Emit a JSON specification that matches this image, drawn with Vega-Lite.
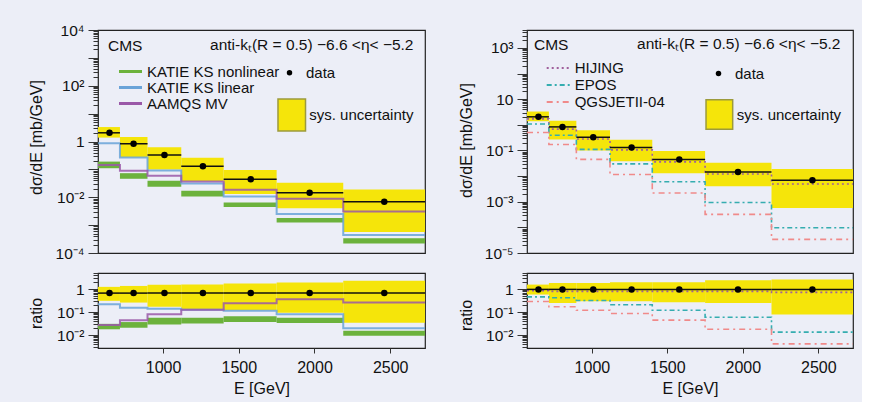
{
 "$schema": "https://vega.github.io/schema/vega-lite/v6.json",
 "background": "#eceef7",
 "padding": {"left": 27, "top": 22, "right": 5, "bottom": 5},
 "datasets": {
  "main": [
   {"lo":570,"hi":715,"E":646,"d":2.05,"slo":1.38,"shi":3.3,"glo":0.11,"ghi":0.19},
   {"lo":715,"hi":897,"E":805,"d":0.83,"slo":0.27,"shi":1.45,"glo":0.046,"ghi":0.073},
   {"lo":897,"hi":1120,"E":1009,"d":0.33,"slo":0.1,"shi":0.62,"glo":0.024,"ghi":0.039},
   {"lo":1120,"hi":1400,"E":1263,"d":0.13,"slo":0.038,"shi":0.26,"glo":0.0107,"ghi":0.017},
   {"lo":1400,"hi":1750,"E":1579,"d":0.044,"slo":0.013,"shi":0.095,"glo":0.0045,"ghi":0.0065},
   {"lo":1750,"hi":2190,"E":1968,"d":0.0145,"slo":0.004,"shi":0.033,"glo":0.00125,"ghi":0.0018},
   {"lo":2190,"hi":2730,"E":2461,"d":0.0069,"slo":0.00057,"shi":0.019,"glo":0.00022,"ghi":0.00034}
  ],
  "left_ratio": [
   {"lo":570,"hi":715,"E":646,"d":0.67,"slo":0.31,"shi":1.25,"glo":0.018,"ghi":0.031},
   {"lo":715,"hi":897,"E":805,"d":0.67,"slo":0.26,"shi":1.37,"glo":0.021,"ghi":0.037},
   {"lo":897,"hi":1120,"E":1009,"d":0.67,"slo":0.17,"shi":1.54,"glo":0.029,"ghi":0.057},
   {"lo":1120,"hi":1400,"E":1263,"d":0.67,"slo":0.134,"shi":1.6,"glo":0.032,"ghi":0.057},
   {"lo":1400,"hi":1750,"E":1579,"d":0.67,"slo":0.12,"shi":1.74,"glo":0.037,"ghi":0.067},
   {"lo":1750,"hi":2190,"E":1968,"d":0.67,"slo":0.094,"shi":1.94,"glo":0.034,"ghi":0.057},
   {"lo":2190,"hi":2730,"E":2461,"d":0.67,"slo":0.035,"shi":2.28,"glo":0.0094,"ghi":0.0154}
  ],
  "right_ratio": [
   {"lo":570,"hi":715,"E":646,"d":0.97,"slo":0.58,"shi":1.57},
   {"lo":715,"hi":897,"E":805,"d":0.97,"slo":0.25,"shi":1.86},
   {"lo":897,"hi":1120,"E":1009,"d":0.97,"slo":0.295,"shi":1.86},
   {"lo":1120,"hi":1400,"E":1263,"d":0.97,"slo":0.295,"shi":1.97},
   {"lo":1400,"hi":1750,"E":1579,"d":0.97,"slo":0.27,"shi":1.97},
   {"lo":1750,"hi":2190,"E":1968,"d":0.97,"slo":0.25,"shi":2.4},
   {"lo":2190,"hi":2730,"E":2461,"d":0.97,"slo":0.078,"shi":2.6}
  ],
  "left_lines": [
   {"E":570,"v":0.87,"model":"KATIE KS linear"},{"E":715,"v":0.265,"model":"KATIE KS linear"},{"E":897,"v":0.091,"model":"KATIE KS linear"},{"E":1120,"v":0.031,"model":"KATIE KS linear"},{"E":1400,"v":0.0106,"model":"KATIE KS linear"},{"E":1750,"v":0.0025,"model":"KATIE KS linear"},{"E":2190,"v":0.00044,"model":"KATIE KS linear"},{"E":2730,"v":0.00044,"model":"KATIE KS linear"},
   {"E":570,"v":0.145,"model":"AAMQS MV"},{"E":715,"v":0.089,"model":"AAMQS MV"},{"E":897,"v":0.059,"model":"AAMQS MV"},{"E":1120,"v":0.037,"model":"AAMQS MV"},{"E":1400,"v":0.0185,"model":"AAMQS MV"},{"E":1750,"v":0.0088,"model":"AAMQS MV"},{"E":2190,"v":0.0031,"model":"AAMQS MV"},{"E":2730,"v":0.0031,"model":"AAMQS MV"}
  ],
  "left_ratio_lines": [
   {"E":570,"v":0.22,"model":"KATIE KS linear"},{"E":715,"v":0.154,"model":"KATIE KS linear"},{"E":897,"v":0.14,"model":"KATIE KS linear"},{"E":1120,"v":0.127,"model":"KATIE KS linear"},{"E":1400,"v":0.114,"model":"KATIE KS linear"},{"E":1750,"v":0.08,"model":"KATIE KS linear"},{"E":2190,"v":0.02,"model":"KATIE KS linear"},{"E":2730,"v":0.02,"model":"KATIE KS linear"},
   {"E":570,"v":0.0275,"model":"AAMQS MV"},{"E":715,"v":0.044,"model":"AAMQS MV"},{"E":897,"v":0.08,"model":"AAMQS MV"},{"E":1120,"v":0.127,"model":"AAMQS MV"},{"E":1400,"v":0.24,"model":"AAMQS MV"},{"E":1750,"v":0.36,"model":"AAMQS MV"},{"E":2190,"v":0.26,"model":"AAMQS MV"},{"E":2730,"v":0.26,"model":"AAMQS MV"}
  ],
  "right_lines": [
   {"E":570,"v":1.7,"model":"HIJING"},{"E":715,"v":0.68,"model":"HIJING"},{"E":897,"v":0.28,"model":"HIJING"},{"E":1120,"v":0.105,"model":"HIJING"},{"E":1400,"v":0.036,"model":"HIJING"},{"E":1750,"v":0.012,"model":"HIJING"},{"E":2190,"v":0.0049,"model":"HIJING"},{"E":2730,"v":0.0049,"model":"HIJING"},
   {"E":570,"v":1.07,"model":"EPOS"},{"E":715,"v":0.39,"model":"EPOS"},{"E":897,"v":0.11,"model":"EPOS"},{"E":1120,"v":0.03,"model":"EPOS"},{"E":1400,"v":0.006,"model":"EPOS"},{"E":1750,"v":0.00093,"model":"EPOS"},{"E":2190,"v":0.000096,"model":"EPOS"},{"E":2730,"v":0.000096,"model":"EPOS"},
   {"E":570,"v":0.5,"model":"QGSJETII-04"},{"E":715,"v":0.17,"model":"QGSJETII-04"},{"E":897,"v":0.045,"model":"QGSJETII-04"},{"E":1120,"v":0.0115,"model":"QGSJETII-04"},{"E":1400,"v":0.0022,"model":"QGSJETII-04"},{"E":1750,"v":0.00032,"model":"QGSJETII-04"},{"E":2190,"v":0.000034,"model":"QGSJETII-04"},{"E":2730,"v":0.000034,"model":"QGSJETII-04"}
  ],
  "right_ratio_lines": [
   {"E":570,"v":0.85,"model":"HIJING"},{"E":715,"v":0.8,"model":"HIJING"},{"E":897,"v":0.8,"model":"HIJING"},{"E":1120,"v":0.8,"model":"HIJING"},{"E":1400,"v":0.8,"model":"HIJING"},{"E":1750,"v":0.8,"model":"HIJING"},{"E":2190,"v":0.72,"model":"HIJING"},{"E":2730,"v":0.72,"model":"HIJING"},
   {"E":570,"v":0.46,"model":"EPOS"},{"E":715,"v":0.42,"model":"EPOS"},{"E":897,"v":0.32,"model":"EPOS"},{"E":1120,"v":0.21,"model":"EPOS"},{"E":1400,"v":0.12,"model":"EPOS"},{"E":1750,"v":0.06,"model":"EPOS"},{"E":2190,"v":0.0135,"model":"EPOS"},{"E":2730,"v":0.0135,"model":"EPOS"},
   {"E":570,"v":0.29,"model":"QGSJETII-04"},{"E":715,"v":0.17,"model":"QGSJETII-04"},{"E":897,"v":0.12,"model":"QGSJETII-04"},{"E":1120,"v":0.087,"model":"QGSJETII-04"},{"E":1400,"v":0.045,"model":"QGSJETII-04"},{"E":1750,"v":0.018,"model":"QGSJETII-04"},{"E":2190,"v":0.0042,"model":"QGSJETII-04"},{"E":2730,"v":0.0042,"model":"QGSJETII-04"}
  ]
 },
 "columns": 2,
 "spacing": {"row": 20, "column": 102},
 "bounds": "flush",
 "resolve": {"scale": {"x": "independent", "y": "independent", "stroke": "independent", "fill": "independent", "shape": "independent", "strokeDash": "independent"}},
 "concat": [
  {
   "width": 327, "height": 223,
   "title": {"text": "CMS", "anchor": "start", "frame": "group", "offset": 0, "dx": 10, "dy": 38, "baseline": "middle"},
   "data": {"name": "main"},
   "layer": [
    {"mark": {"type": "rect"},
     "encoding": {
      "x": {"field": "lo", "type": "quantitative", "scale": {"domain": [570, 2730], "nice": false},
       "axis": {"orient": "top", "labels": false, "ticks": false, "domain": false, "title": "anti-kₜ(R = 0.5) −6.6 <η< −5.2", "titleX": 315, "titleY": 14, "titleAlign": "right", "titleBaseline": "middle", "titleFontSize": 15.5, "titlePadding": 0}},
      "x2": {"field": "hi"},
      "y": {"field": "slo", "type": "quantitative", "scale": {"type": "log", "domain": [0.0001, 10000], "nice": false},
       "axis": {"values": [1e-4,2e-4,3e-4,4e-4,5e-4,6e-4,7e-4,8e-4,9e-4,1e-3,2e-3,3e-3,4e-3,5e-3,6e-3,7e-3,8e-3,9e-3,0.01,0.02,0.03,0.04,0.05,0.06,0.07,0.08,0.09,0.1,0.2,0.3,0.4,0.5,0.6,0.7,0.8,0.9,1,2,3,4,5,6,7,8,9,10,20,30,40,50,60,70,80,90,100,200,300,400,500,600,700,800,900,1000,2000,3000,4000,5000,6000,7000,8000,9000,10000],
        "labelExpr": "abs(log(datum.value)/LN10-round(log(datum.value)/LN10))>0.01?'':round(log(datum.value)/LN10)==4?'10⁴':round(log(datum.value)/LN10)==2?'10²':round(log(datum.value)/LN10)==0?'1':round(log(datum.value)/LN10)==-2?'10⁻²':round(log(datum.value)/LN10)==-4?'10⁻⁴':''",
        "tickSize": {"condition": {"test": "abs(log(datum.value)/LN10-round(log(datum.value)/LN10))<0.01", "value": 10}, "value": 5},
        "labelOverlap": false, "labelPadding": 4, "labelFontSize": 15.5,
        "title": "dσ/dE [mb/GeV]", "titleFontSize": 16, "titleX": -62, "titleY": 107, "titleBaseline": "middle",
        "minExtent": 48, "maxExtent": 48}},
      "y2": {"field": "shi"},
      "fill": {"datum": "sys. uncertainty", "type": "nominal", "scale": {"range": ["#f5e50a"]},
       "legend": {"orient": "none", "legendX": 176.75, "legendY": 68, "title": null, "symbolType": "M-0.86,-1H0.86V1H-0.86Z", "symbolSize": 1024, "symbolStrokeColor": "#9c9a3c", "symbolStrokeWidth": 1.5, "labelOffset": 0.5, "labelFontSize": 15}}
     }},
    {"mark": {"type": "rect", "color": "#6cb23c"},
     "encoding": {"x": {"field": "lo", "type": "quantitative"}, "x2": {"field": "hi"}, "y": {"field": "glo", "type": "quantitative"}, "y2": {"field": "ghi"}}},
    {"data": {"name": "left_lines"},
     "mark": {"type": "line", "interpolate": "step-after", "strokeWidth": 2, "strokeOpacity": 0.85},
     "encoding": {"x": {"field": "E", "type": "quantitative"}, "y": {"field": "v", "type": "quantitative"},
      "stroke": {"field": "model", "type": "nominal", "scale": {"domain": ["KATIE KS nonlinear", "KATIE KS linear", "AAMQS MV"], "range": ["#6cb23c", "#6aa3d8", "#9a58a8"]},
       "legend": {"orient": "none", "legendX": 25, "legendY": 34, "title": null, "symbolType": "M-2,0H2", "symbolSize": 132.25, "symbolStrokeWidth": 3, "labelOffset": 9, "labelFontSize": 15, "rowPadding": -0.65}}}},
    {"mark": {"type": "rule", "color": "#111", "strokeWidth": 1.5},
     "encoding": {"x": {"field": "lo", "type": "quantitative"}, "x2": {"field": "hi"}, "y": {"field": "d", "type": "quantitative"}}},
    {"mark": {"type": "point", "filled": true, "color": "#000", "size": 42, "opacity": 1},
     "encoding": {"x": {"field": "E", "type": "quantitative"}, "y": {"field": "d", "type": "quantitative"},
      "shape": {"datum": "data", "type": "nominal", "scale": {"range": ["circle"]},
       "legend": {"orient": "none", "legendX": 184, "legendY": 35.2, "title": null, "symbolSize": 30, "labelOffset": 9, "labelFontSize": 15}}}}
   ]
  },
  {
   "width": 326, "height": 223,
   "title": {"text": "CMS", "anchor": "start", "frame": "group", "offset": 0, "dx": 7, "dy": 37, "baseline": "middle"},
   "data": {"name": "main"},
   "layer": [
    {"mark": {"type": "rect"},
     "encoding": {
      "x": {"field": "lo", "type": "quantitative", "scale": {"domain": [570, 2730], "nice": false},
       "axis": {"orient": "top", "labels": false, "ticks": false, "domain": false, "title": "anti-kₜ(R = 0.5) −6.6 <η< −5.2", "titleX": 313, "titleY": 13.5, "titleAlign": "right", "titleBaseline": "middle", "titleFontSize": 15.5, "titlePadding": 0}},
      "x2": {"field": "hi"},
      "y": {"field": "slo", "type": "quantitative", "scale": {"type": "log", "domain": [0.00001, 5000], "nice": false},
       "axis": {"values": [1e-5,2e-5,3e-5,4e-5,5e-5,6e-5,7e-5,8e-5,9e-5,1e-4,2e-4,3e-4,4e-4,5e-4,6e-4,7e-4,8e-4,9e-4,1e-3,2e-3,3e-3,4e-3,5e-3,6e-3,7e-3,8e-3,9e-3,0.01,0.02,0.03,0.04,0.05,0.06,0.07,0.08,0.09,0.1,0.2,0.3,0.4,0.5,0.6,0.7,0.8,0.9,1,2,3,4,5,6,7,8,9,10,20,30,40,50,60,70,80,90,100,200,300,400,500,600,700,800,900,1000,2000,3000,4000,5000],
        "labelExpr": "abs(log(datum.value)/LN10-round(log(datum.value)/LN10))>0.01?'':round(log(datum.value)/LN10)==3?'10³':round(log(datum.value)/LN10)==1?'10':round(log(datum.value)/LN10)==-1?'10⁻¹':round(log(datum.value)/LN10)==-3?'10⁻³':round(log(datum.value)/LN10)==-5?'10⁻⁵':''",
        "tickSize": {"condition": {"test": "abs(log(datum.value)/LN10-round(log(datum.value)/LN10))<0.01", "value": 10}, "value": 5},
        "labelOverlap": false, "labelPadding": 4, "labelFontSize": 15.5,
        "title": "dσ/dE [mb/GeV]", "titleFontSize": 16, "titleX": -61, "titleY": 110, "titleBaseline": "middle",
        "minExtent": 48, "maxExtent": 48}},
      "y2": {"field": "shi"},
      "fill": {"datum": "sys. uncertainty", "type": "nominal", "scale": {"range": ["#f5e50a"]},
       "legend": {"orient": "none", "legendX": 176.85, "legendY": 69, "title": null, "symbolType": "M-0.91,-1H0.91V1H-0.91Z", "symbolSize": 858, "symbolStrokeColor": "#9c9a3c", "symbolStrokeWidth": 1.5, "labelOffset": 2, "labelFontSize": 15}}
     }},
    {"data": {"name": "right_lines"},
     "mark": {"type": "line", "interpolate": "step-after", "strokeWidth": 1.6},
     "encoding": {"x": {"field": "E", "type": "quantitative"}, "y": {"field": "v", "type": "quantitative"},
      "stroke": {"field": "model", "type": "nominal", "scale": {"domain": ["HIJING", "EPOS", "QGSJETII-04"], "range": ["#a0609c", "#35adb0", "#f08a8a"]},
       "legend": {"orient": "none", "legendX": 23.7, "legendY": 30.4, "title": null, "symbolType": "M-2,0H2", "symbolSize": 132.25, "symbolStrokeWidth": 2, "labelOffset": 9, "labelFontSize": 15, "rowPadding": 1}},
      "strokeDash": {"field": "model", "type": "nominal", "scale": {"domain": ["HIJING", "EPOS", "QGSJETII-04"], "range": [[2, 3], [5, 3, 2, 3], [6, 4, 2, 4]]},
       "legend": {"orient": "none", "legendX": 23.7, "legendY": 30.4, "title": null, "symbolType": "M-2,0H2", "symbolSize": 132.25, "symbolStrokeWidth": 2, "labelOffset": 9, "labelFontSize": 15, "rowPadding": 1}}}},
    {"mark": {"type": "rule", "color": "#111", "strokeWidth": 1.5},
     "encoding": {"x": {"field": "lo", "type": "quantitative"}, "x2": {"field": "hi"}, "y": {"field": "d", "type": "quantitative"}}},
    {"mark": {"type": "point", "filled": true, "color": "#000", "size": 42, "opacity": 1},
     "encoding": {"x": {"field": "E", "type": "quantitative"}, "y": {"field": "d", "type": "quantitative"},
      "shape": {"datum": "data", "type": "nominal", "scale": {"range": ["circle"]},
       "legend": {"orient": "none", "legendX": 184, "legendY": 36, "title": null, "symbolSize": 30, "labelOffset": 9, "labelFontSize": 15}}}}
   ]
  },
  {
   "width": 327, "height": 75,
   "data": {"name": "left_ratio"},
   "layer": [
    {"mark": {"type": "rect", "color": "#f5e50a"},
     "encoding": {
      "x": {"field": "lo", "type": "quantitative", "scale": {"domain": [570, 2730], "nice": false},
       "axis": {"values": [1000, 1500, 2000, 2500], "format": "d", "title": "E [GeV]", "tickSize": 5, "labelPadding": 6, "titlePadding": 5, "labelFontSize": 16, "titleFontSize": 16, "labelFlush": false}},
      "x2": {"field": "hi"},
      "y": {"field": "slo", "type": "quantitative", "scale": {"type": "log", "domain": [0.00277, 5], "nice": false},
       "axis": {"values": [0.003,0.004,0.005,0.006,0.007,0.008,0.009,0.01,0.02,0.03,0.04,0.05,0.06,0.07,0.08,0.09,0.1,0.2,0.3,0.4,0.5,0.6,0.7,0.8,0.9,1,2,3,4,5],
        "labelExpr": "abs(log(datum.value)/LN10-round(log(datum.value)/LN10))>0.01?'':round(log(datum.value)/LN10)==0?'1':round(log(datum.value)/LN10)==-1?'10⁻¹':round(log(datum.value)/LN10)==-2?'10⁻²':''",
        "tickSize": {"condition": {"test": "abs(log(datum.value)/LN10-round(log(datum.value)/LN10))<0.01", "value": 10}, "value": 5},
        "labelOverlap": false, "labelPadding": 4, "labelFontSize": 15.5,
        "title": "ratio", "titleFontSize": 16, "titleX": -62, "titleY": 40, "titleBaseline": "middle",
        "minExtent": 48, "maxExtent": 48}},
      "y2": {"field": "shi"}
     }},
    {"mark": {"type": "rect", "color": "#6cb23c"},
     "encoding": {"x": {"field": "lo", "type": "quantitative"}, "x2": {"field": "hi"}, "y": {"field": "glo", "type": "quantitative"}, "y2": {"field": "ghi"}}},
    {"data": {"name": "left_ratio_lines"},
     "mark": {"type": "line", "interpolate": "step-after", "strokeWidth": 2, "strokeOpacity": 0.85},
     "encoding": {"x": {"field": "E", "type": "quantitative"}, "y": {"field": "v", "type": "quantitative"},
      "stroke": {"field": "model", "type": "nominal", "scale": {"domain": ["KATIE KS nonlinear", "KATIE KS linear", "AAMQS MV"], "range": ["#6cb23c", "#6aa3d8", "#9a58a8"]}, "legend": null}}},
    {"mark": {"type": "rule", "color": "#111", "strokeWidth": 1.5},
     "encoding": {"x": {"field": "lo", "type": "quantitative"}, "x2": {"field": "hi"}, "y": {"field": "d", "type": "quantitative"}}},
    {"mark": {"type": "point", "filled": true, "color": "#000", "size": 42, "opacity": 1},
     "encoding": {"x": {"field": "E", "type": "quantitative"}, "y": {"field": "d", "type": "quantitative"}}}
   ]
  },
  {
   "width": 326, "height": 75,
   "data": {"name": "right_ratio"},
   "layer": [
    {"mark": {"type": "rect", "color": "#f5e50a"},
     "encoding": {
      "x": {"field": "lo", "type": "quantitative", "scale": {"domain": [570, 2730], "nice": false},
       "axis": {"values": [1000, 1500, 2000, 2500], "format": "d", "title": "E [GeV]", "tickSize": 5, "labelPadding": 6, "titlePadding": 5, "labelFontSize": 16, "titleFontSize": 16, "labelFlush": false}},
      "x2": {"field": "hi"},
      "y": {"field": "slo", "type": "quantitative", "scale": {"type": "log", "domain": [0.00277, 5], "nice": false},
       "axis": {"values": [0.003,0.004,0.005,0.006,0.007,0.008,0.009,0.01,0.02,0.03,0.04,0.05,0.06,0.07,0.08,0.09,0.1,0.2,0.3,0.4,0.5,0.6,0.7,0.8,0.9,1,2,3,4,5],
        "labelExpr": "abs(log(datum.value)/LN10-round(log(datum.value)/LN10))>0.01?'':round(log(datum.value)/LN10)==0?'1':round(log(datum.value)/LN10)==-1?'10⁻¹':round(log(datum.value)/LN10)==-2?'10⁻²':''",
        "tickSize": {"condition": {"test": "abs(log(datum.value)/LN10-round(log(datum.value)/LN10))<0.01", "value": 10}, "value": 5},
        "labelOverlap": false, "labelPadding": 4, "labelFontSize": 15.5,
        "title": "ratio", "titleFontSize": 16, "titleX": -61, "titleY": 42, "titleBaseline": "middle",
        "minExtent": 48, "maxExtent": 48}},
      "y2": {"field": "shi"}
     }},
    {"data": {"name": "right_ratio_lines"},
     "mark": {"type": "line", "interpolate": "step-after", "strokeWidth": 1.6},
     "encoding": {"x": {"field": "E", "type": "quantitative"}, "y": {"field": "v", "type": "quantitative"},
      "stroke": {"field": "model", "type": "nominal", "scale": {"domain": ["HIJING", "EPOS", "QGSJETII-04"], "range": ["#a0609c", "#35adb0", "#f08a8a"]}, "legend": null},
      "strokeDash": {"field": "model", "type": "nominal", "scale": {"domain": ["HIJING", "EPOS", "QGSJETII-04"], "range": [[2, 3], [5, 3, 2, 3], [6, 4, 2, 4]]}, "legend": null}}},
    {"mark": {"type": "rule", "color": "#111", "strokeWidth": 1.5},
     "encoding": {"x": {"field": "lo", "type": "quantitative"}, "x2": {"field": "hi"}, "y": {"field": "d", "type": "quantitative"}}},
    {"mark": {"type": "point", "filled": true, "color": "#000", "size": 42, "opacity": 1},
     "encoding": {"x": {"field": "E", "type": "quantitative"}, "y": {"field": "d", "type": "quantitative"}}}
   ]
  }
 ],
 "config": {
  "font": "Liberation Sans",
  "view": {"stroke": "#222", "strokeWidth": 1.2},
  "axis": {"grid": false, "domain": false, "labelColor": "#111", "titleColor": "#111", "tickColor": "#333", "titleFontWeight": "normal", "labelFont": "Liberation Sans", "titleFont": "Liberation Sans"},
  "legend": {"labelColor": "#111", "padding": 0, "labelFont": "Liberation Sans"},
  "title": {"fontWeight": "normal", "color": "#111", "fontSize": 15.5, "font": "Liberation Sans"}
 }
}
